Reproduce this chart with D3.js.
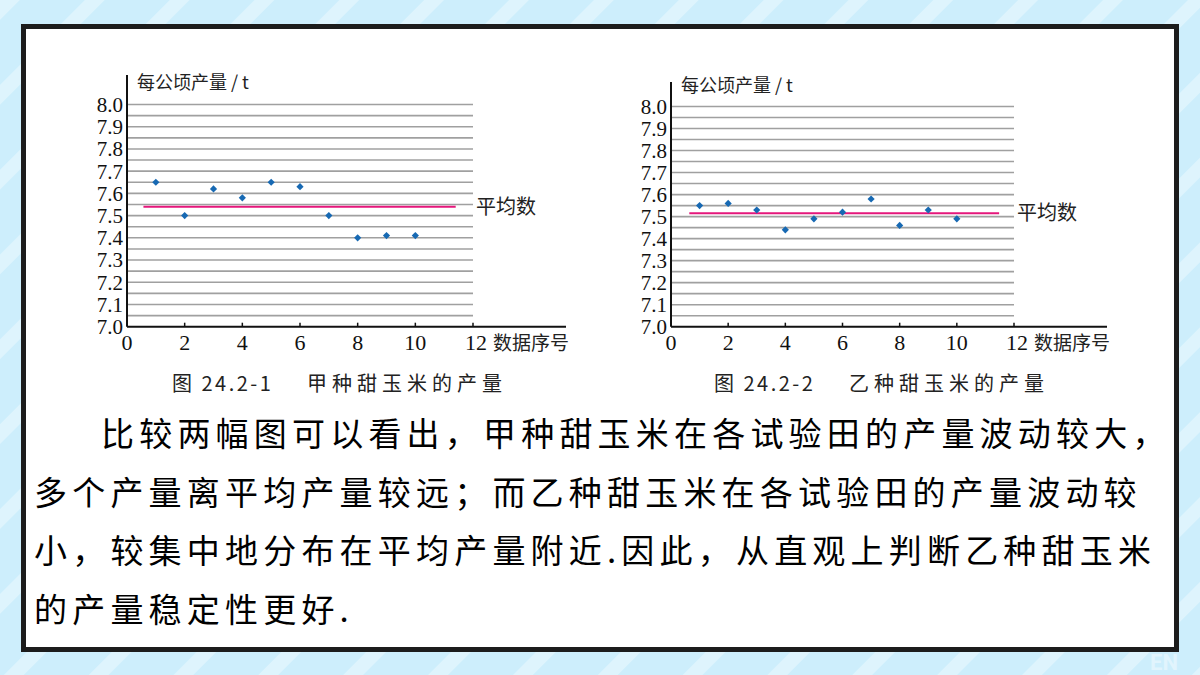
<!DOCTYPE html>
<html>
<head>
<meta charset="utf-8">
<script src="https://cdn.jsdelivr.net/npm/d3@7"></script>
<style>
  body { margin: 0; background: #cdeefc; }
  svg { display: block; }
</style>
</head>
<body>
<div id="chart"></div>
<script>
// data
var indexes = [1, 2, 3, 4, 5, 6, 7, 8, 9, 10];
var yieldA = [7.65, 7.50, 7.62, 7.58, 7.65, 7.63, 7.50, 7.40, 7.41, 7.41];
var yieldB = [7.55, 7.56, 7.53, 7.44, 7.49, 7.52, 7.58, 7.46, 7.53, 7.49];
var meanA = 7.54;
var meanB = 7.515;
var xTicks = [0, 2, 4, 6, 8, 10, 12];
var yTicks = [7.0, 7.1, 7.2, 7.3, 7.4, 7.5, 7.6, 7.7, 7.8, 7.9, 8.0];
var gridLines = d3.range(21).map(function (i) { return +(7.0 + i * 0.05).toFixed(2); });
var yTitle = "每公顷产量 / t";
var xTitle = "数据序号";
var meanLabel = "平均数";
var captionsNo = ["图 24.2-1", "图 24.2-2"];
var captionsText = ["甲种甜玉米的产量", "乙种甜玉米的产量"];
var paragraph = [
  "比较两幅图可以看出，甲种甜玉米在各试验田的产量波动较大，",
  "多个产量离平均产量较远；而乙种甜玉米在各试验田的产量波动较",
  "小，较集中地分布在平均产量附近.因此，从直观上判断乙种甜玉米",
  "的产量稳定性更好."
];

var W = 1200, H = 675;
var cjk = "'Noto Sans CJK SC', 'Noto Sans', sans-serif";
var serif = "'Liberation Serif', 'DejaVu Serif', serif";

var svg = d3.select("#chart").append("svg")
  .attr("width", W).attr("height", H);

// background with faint diagonal stripes
var defs = svg.append("defs");
var pat = defs.append("pattern")
  .attr("id", "stripes").attr("patternUnits", "userSpaceOnUse")
  .attr("width", 60).attr("height", 60)
  .attr("patternTransform", "rotate(45)");
pat.append("rect").attr("width", 60).attr("height", 60).attr("fill", "#cdeefc");
pat.append("rect").attr("x", 0).attr("width", 14).attr("height", 60).attr("fill", "#ffffff").attr("opacity", 0.35);

svg.append("rect").attr("width", W).attr("height", H).attr("fill", "url(#stripes)");

svg.append("text")
  .attr("x", 1150).attr("y", 670)
  .attr("font-family", "Roboto, sans-serif").attr("font-weight", 700)
  .attr("font-size", 22).attr("fill", "#ffffff").attr("opacity", 0.4)
  .text("EN");

// frame
svg.append("rect")
  .attr("x", 23.5).attr("y", 26.5).attr("width", 1153).attr("height", 623)
  .attr("fill", "#ffffff").attr("stroke", "#1c1c1c").attr("stroke-width", 5);

function drawChart(cfg) {
  var x = d3.scaleLinear().domain([0, 12]).range([cfg.left, cfg.right]);
  var y = d3.scaleLinear().domain([7.0, 8.0]).range([cfg.bottom, cfg.top]);
  var g = svg.append("g");

  // grid every 0.05
  g.selectAll("line.grid")
    .data(gridLines.filter(function (d) { return d > 7.0; }))
    .enter().append("line")
    .attr("class", "grid")
    .attr("x1", x(0)).attr("x2", x(12))
    .attr("y1", function (d) { return y(d); })
    .attr("y2", function (d) { return y(d); })
    .attr("stroke", "#a0a0a0").attr("stroke-width", 1.6);

  // y axis
  g.append("line")
    .attr("x1", x(0)).attr("x2", x(0))
    .attr("y1", y(7.0)).attr("y2", cfg.axisTop)
    .attr("stroke", "#111").attr("stroke-width", 2);

  g.selectAll("text.ytick")
    .data(yTicks).enter().append("text")
    .attr("class", "ytick")
    .attr("x", x(0) - 4).attr("y", function (d) { return y(d); })
    .attr("dy", "0.35em")
    .attr("text-anchor", "end")
    .attr("font-family", serif).attr("font-size", 21)
    .attr("fill", "#111")
    .text(function (d) { return d.toFixed(1); });

  g.append("text")
    .attr("x", cfg.left + 10).attr("y", cfg.titleY)
    .attr("font-family", cjk).attr("font-size", 18).attr("fill", "#222")
    .text(yTitle);

  // x axis
  g.append("line")
    .attr("x1", x(0)).attr("x2", cfg.axisRight)
    .attr("y1", y(7.0)).attr("y2", y(7.0))
    .attr("stroke", "#111").attr("stroke-width", 2);

  g.selectAll("line.xtick")
    .data(xTicks.filter(function (d) { return d > 0; })).enter().append("line")
    .attr("class", "xtick")
    .attr("x1", function (d) { return x(d); })
    .attr("x2", function (d) { return x(d); })
    .attr("y1", y(7.0)).attr("y2", y(7.0) - 4)
    .attr("stroke", "#111").attr("stroke-width", 1.5);

  g.selectAll("text.xtick")
    .data(xTicks).enter().append("text")
    .attr("class", "xtick")
    .attr("x", function (d) { return x(d) + (d === 12 ? 3 : 0); })
    .attr("y", y(7.0) + 23)
    .attr("text-anchor", "middle")
    .attr("font-family", serif).attr("font-size", 22)
    .attr("fill", "#111")
    .text(function (d) { return d; });

  g.append("text")
    .attr("x", x(12) + 20).attr("y", y(7.0) + 23)
    .attr("font-family", cjk).attr("font-size", 19).attr("fill", "#222")
    .text(xTitle);

  // mean line
  g.append("line")
    .attr("x1", x(cfg.meanFrom)).attr("x2", x(cfg.meanTo))
    .attr("y1", y(cfg.mean)).attr("y2", y(cfg.mean))
    .attr("stroke", "#e5177b").attr("stroke-width", 2);

  g.append("text")
    .attr("x", x(12) + 3).attr("y", y(cfg.mean))
    .attr("dy", "0.35em")
    .attr("font-family", cjk).attr("font-size", 20).attr("fill", "#222")
    .text(meanLabel);

  // points
  g.selectAll("path.pt")
    .data(cfg.values).enter().append("path")
    .attr("class", "pt")
    .attr("d", d3.symbol().type(d3.symbolSquare).size(26))
    .attr("transform", function (d, i) {
      return "translate(" + x(indexes[i]) + "," + y(d) + ") rotate(45)";
    })
    .attr("fill", "#1769b3");

  // caption
  var cap = g.append("text")
    .attr("y", 391)
    .attr("font-family", cjk).attr("font-size", 20).attr("fill", "#222");
  cap.append("tspan").attr("x", cfg.capX).attr("letter-spacing", 2.5).text(cfg.capNo);
  cap.append("tspan").attr("x", cfg.capX + 135).attr("letter-spacing", 5).text(cfg.capText);
}

drawChart({
  left: 127, right: 473, top: 104.5, bottom: 326.7, axisTop: 75, axisRight: 566,
  titleY: 89, values: yieldA, mean: meanA, meanFrom: 0.57, meanTo: 11.4,
  capX: 172, capNo: captionsNo[0], capText: captionsText[0]
});

drawChart({
  left: 671, right: 1014, top: 106.5, bottom: 326.7, axisTop: 82, axisRight: 1107,
  titleY: 92, values: yieldB, mean: meanB, meanFrom: 0.64, meanTo: 11.48,
  capX: 714, capNo: captionsNo[1], capText: captionsText[1]
});

// paragraph
svg.selectAll("text.para")
  .data(paragraph).enter().append("text")
  .attr("class", "para")
  .attr("x", function (d, i) { return i === 0 ? 101 : 34; })
  .attr("y", function (d, i) { return 446 + i * 58.5; })
  .attr("font-family", cjk).attr("font-size", 33)
  .attr("letter-spacing", 5.2)
  .attr("fill", "#000")
  .text(function (d) { return d; });
</script>
</body>
</html>
